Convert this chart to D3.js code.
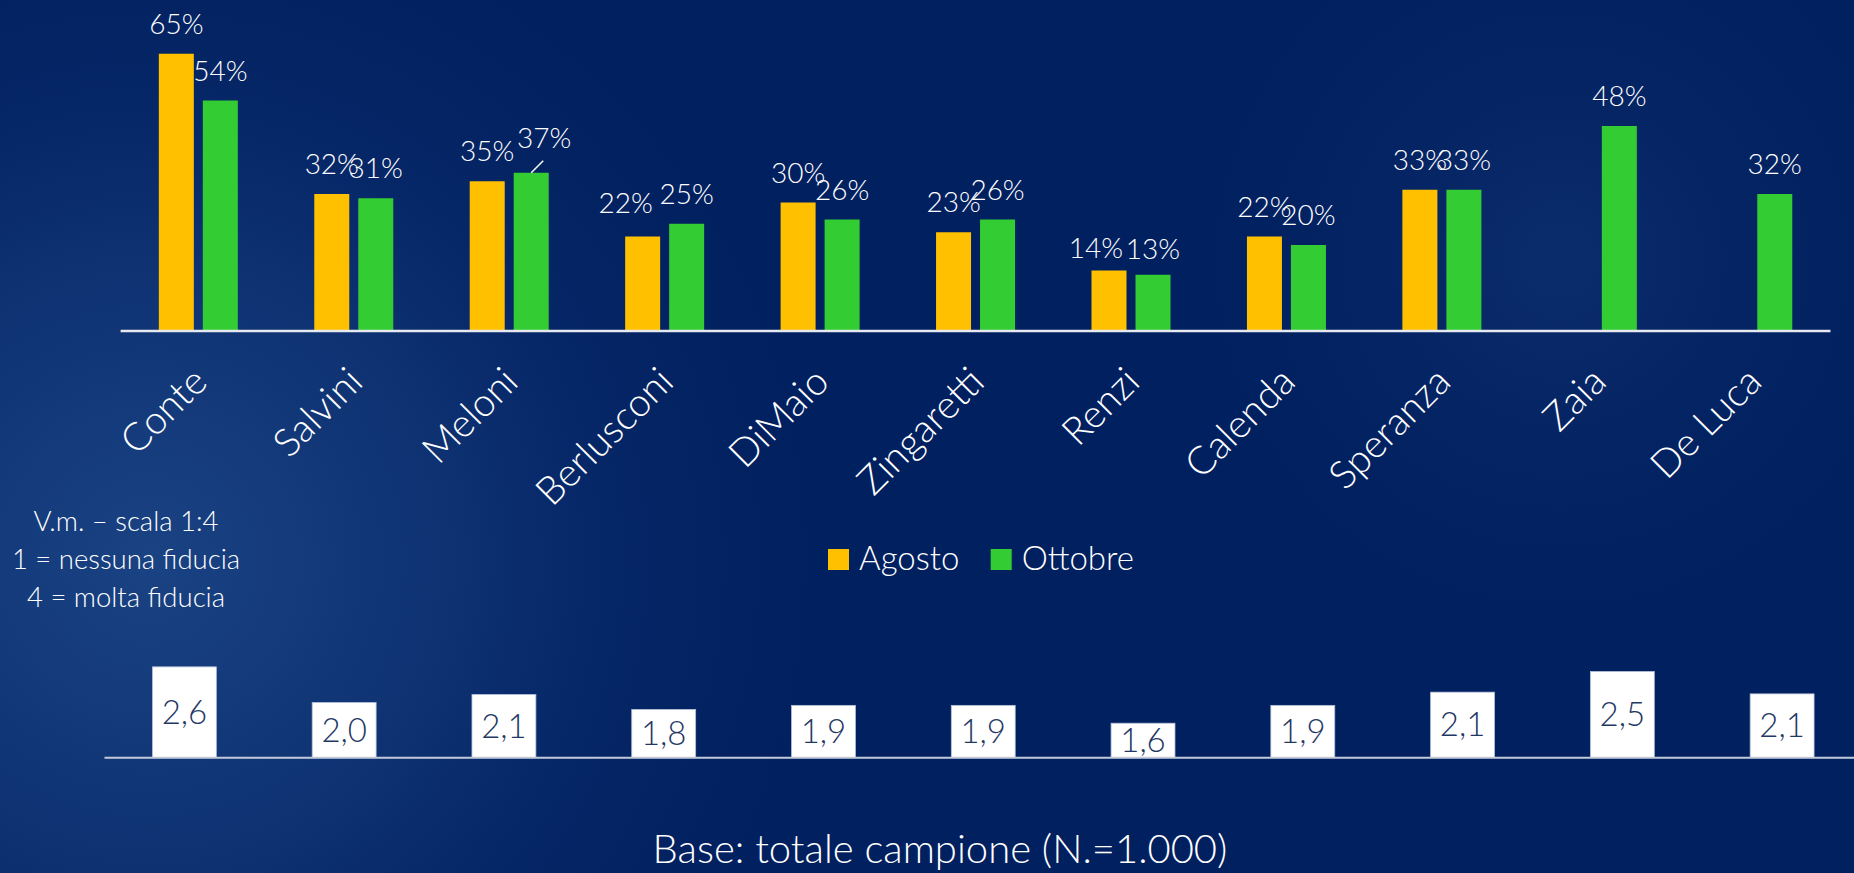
<!DOCTYPE html>
<html>
<head>
<meta charset="utf-8">
<script src="https://cdn.jsdelivr.net/npm/d3@7"></script>
<style>
  html, body { margin: 0; padding: 0; background: #012060; overflow: hidden; }
  svg { display: block; font-family: Lato, "Open Sans", sans-serif; font-weight: 300; }
  .pct { fill: #fff; font-size: 28px; text-anchor: middle; }
  .cat { fill: #fff; font-size: 39px; text-anchor: end; }
  .vm { fill: #1f3864; font-size: 33px; text-anchor: middle; }
  .note { fill: #fff; font-size: 27.5px; text-anchor: middle; }
  .legend-label { fill: #fff; font-size: 33px; }
  .foot { fill: #fff; font-size: 40px; text-anchor: middle; }
</style>
</head>
<body>
<svg width="1854" height="873"></svg>
<script>
// fiducia nei leader: % molta + abbastanza fiducia, agosto vs ottobre
const names = ['Conte', 'Salvini', 'Meloni', 'Berlusconi', 'DiMaio', 'Zingaretti', 'Renzi', 'Calenda', 'Speranza', 'Zaia', 'De Luca'];
const seriesNames = ['Agosto', 'Ottobre'];
const agosto = [65, 32, 35, 22, 30, 23, 14, 22, 33, null, null];
const ottobre = [54, 31, 37, 25, 26, 26, 13, 20, 33, 48, 32];
// voto medio, scala 1:4
const votoMedio = [2.58, 1.96, 2.10, 1.84, 1.91, 1.91, 1.60, 1.91, 2.14, 2.50, 2.11];
const noteLines = ['V.m. – scala 1:4', '1 = nessuna fiducia', '4 = molta fiducia'];
const footnote = 'Base: totale campione (N.=1.000)';

const colors = {Agosto: '#ffc000', Ottobre: '#33cc33'};

// labels Excel had dragged away from their default spot
const labelNudge = {
    'Berlusconi|Agosto': [-17, -4],
    'Meloni|Ottobre': [13, -5],
    'Renzi|Agosto': [-13, 7],
    'Renzi|Ottobre': [0, 4]
};

const svg = d3.select('svg');
const width = +svg.attr('width');

// background
const defs = svg.append('defs');
const glow1 = defs.append('radialGradient').attr('id', 'glow1')
    .attr('gradientUnits', 'userSpaceOnUse').attr('cx', 150).attr('cy', 560).attr('r', 720);
glow1.append('stop').attr('offset', 0).attr('stop-color', '#1a4384');
glow1.append('stop').attr('offset', 0.45).attr('stop-color', '#0d3070');
glow1.append('stop').attr('offset', 1).attr('stop-color', '#012060').attr('stop-opacity', 0);
const glow2 = defs.append('radialGradient').attr('id', 'glow2')
    .attr('gradientUnits', 'userSpaceOnUse').attr('cx', 1560).attr('cy', 260).attr('r', 420);
glow2.append('stop').attr('offset', 0).attr('stop-color', '#0c2d6c');
glow2.append('stop').attr('offset', 1).attr('stop-color', '#012060').attr('stop-opacity', 0);

svg.append('rect').attr('width', width).attr('height', 873).attr('fill', '#012060');
svg.append('rect').attr('width', width).attr('height', 873).attr('fill', 'url(#glow1)');
svg.append('rect').attr('width', width).attr('height', 873).attr('fill', 'url(#glow2)');

// ---- top chart ----
const rows = names.map((name, i) => ({name, Agosto: agosto[i], Ottobre: ottobre[i]}));

const x0 = d3.scaleBand().domain(names).range([120.6, 1830.5]);
const x1 = d3.scaleBand().domain(seriesNames).range([-39.5, 39.5]).paddingInner(0.2045);
const y = d3.scaleLinear().domain([0, 70]).range([330, 330 - 70 * 4.25]);

const topG = svg.append('g');

const groups = topG.selectAll('g.group').data(rows)
    .enter().append('g')
        .attr('class', 'group')
        .attr('transform', d => `translate(${x0(d.name) + x0.bandwidth() / 2},0)`);

const cells = groups.selectAll('g.cell')
    .data(d => seriesNames.filter(s => d[s] != null).map(s => ({name: d.name, series: s, value: d[s]})))
    .enter().append('g').attr('class', 'cell');

cells.append('rect')
    .attr('x', d => x1(d.series))
    .attr('width', x1.bandwidth())
    .attr('y', d => y(d.value))
    .attr('height', d => y(0) - y(d.value))
    .attr('fill', d => colors[d.series]);

const nudge = d => labelNudge[d.name + '|' + d.series] || [0, 0];

cells.filter(d => d.name === 'Meloni' && d.series === 'Ottobre')
    .append('line')
        .attr('x1', d => x1(d.series) + x1.bandwidth() / 2 + nudge(d)[0] - 1)
        .attr('y1', d => y(d.value) - 20 + nudge(d)[1] + 13)
        .attr('x2', d => x1(d.series) + x1.bandwidth() / 2)
        .attr('y2', d => y(d.value))
        .attr('stroke', '#fff')
        .attr('stroke-width', 1.5);

cells.append('text')
    .attr('class', 'pct')
    .attr('x', d => x1(d.series) + x1.bandwidth() / 2 + nudge(d)[0])
    .attr('y', d => y(d.value) - 20 + nudge(d)[1])
    .text(d => d.value + '%');

topG.append('line')
    .attr('x1', x0.range()[0]).attr('x2', x0.range()[1])
    .attr('y1', y(0) + 1).attr('y2', y(0) + 1)
    .attr('stroke', '#e6e9f0').attr('stroke-width', 2.5);

topG.selectAll('text.cat').data(names)
    .enter().append('text')
        .attr('class', 'cat')
        .attr('transform', d => `translate(${x0(d) + x0.bandwidth() / 2 + 11},384) rotate(-45)`)
        .text(d => d);

// legend
const legend = svg.append('g').attr('transform', 'translate(828,549)');
const legendItems = legend.selectAll('g').data(seriesNames)
    .enter().append('g')
        .attr('transform', (d, i) => `translate(${i * 162.7},0)`);
legendItems.append('rect')
    .attr('width', 21).attr('height', 21)
    .attr('fill', d => colors[d]);
legendItems.append('text')
    .attr('class', 'legend-label')
    .attr('x', 31).attr('y', 21)
    .text(d => d);

// note on the left
svg.append('g').selectAll('text').data(noteLines)
    .enter().append('text')
        .attr('class', 'note')
        .attr('x', 126)
        .attr('y', (d, i) => 530.7 + i * 38)
        .text(d => d);

// ---- bottom chart: voto medio ----
const itFormat = d3.formatLocale({decimal: ',', thousands: '.', grouping: [3], currency: ['€', '']}).format('.1f');

const xb = d3.scaleBand().domain(names).range([104.5, 1862]).paddingInner(0.6).paddingOuter(0.3);
const yb = d3.scaleLinear().domain([1, 4]).range([757.7, 757.7 - 3 * 57.5]);

const bottomG = svg.append('g');

bottomG.selectAll('rect').data(votoMedio)
    .enter().append('rect')
        .attr('x', (d, i) => xb(names[i]))
        .attr('width', xb.bandwidth())
        .attr('y', d => yb(d))
        .attr('height', d => yb(1) - yb(d))
        .attr('fill', '#fff')
        .attr('stroke', '#b4c0d6')
        .attr('stroke-width', 0.8);

bottomG.append('line')
    .attr('x1', 104.5).attr('x2', width)
    .attr('y1', yb(1)).attr('y2', yb(1))
    .attr('stroke', '#c3cbdb').attr('stroke-width', 2);

bottomG.selectAll('text').data(votoMedio)
    .enter().append('text')
        .attr('class', 'vm')
        .attr('x', (d, i) => xb(names[i]) + xb.bandwidth() / 2)
        .attr('y', d => (yb(d) + yb(1)) / 2)
        .attr('dy', '0.35em')
        .text(d => itFormat(d));

svg.append('text')
    .attr('class', 'foot')
    .attr('x', 940).attr('y', 863)
    .text(footnote);
</script>
</body>
</html>
